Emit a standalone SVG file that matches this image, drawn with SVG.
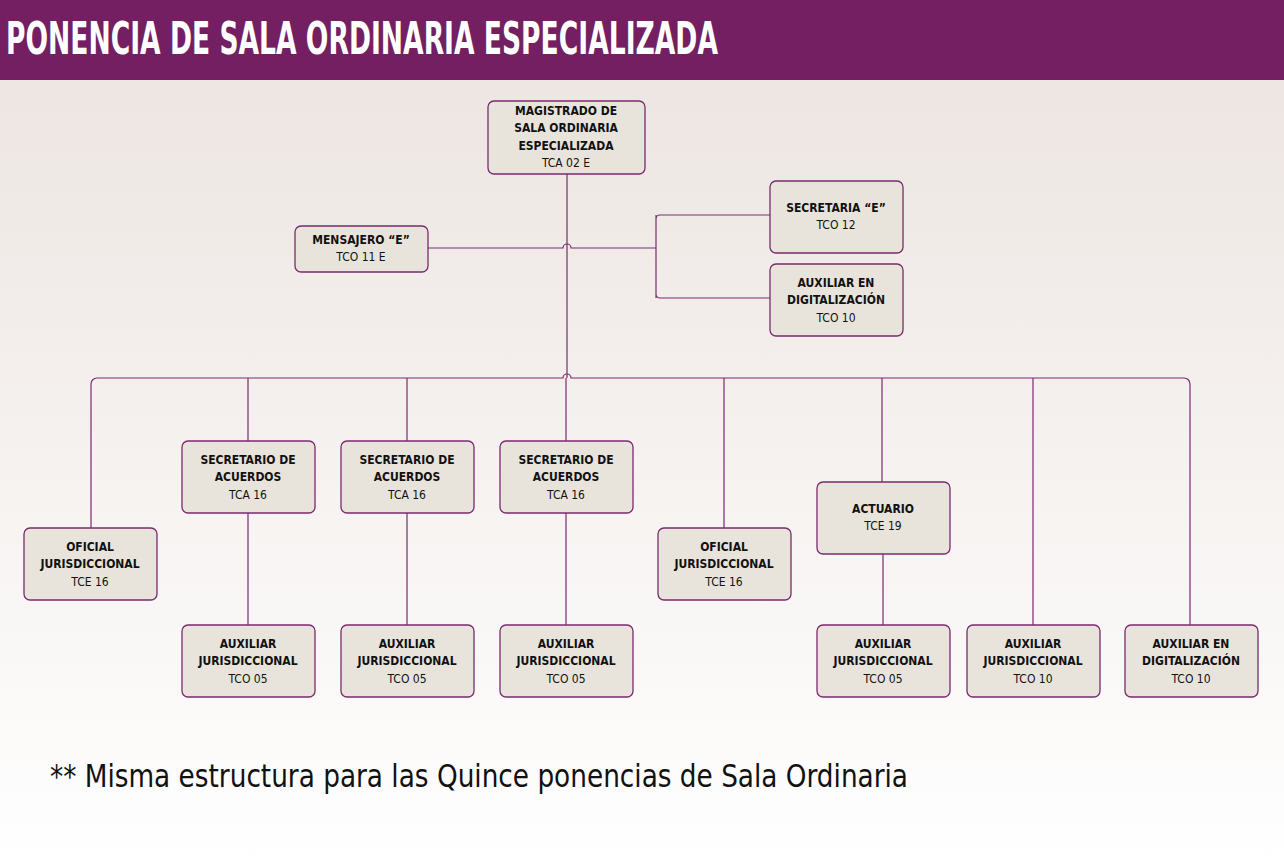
<svg xmlns="http://www.w3.org/2000/svg" width="1284" height="868" viewBox="0 0 1284 868">
<defs>
<linearGradient id="bg" x1="0" y1="0" x2="0" y2="1"><stop offset="0" stop-color="#ebe3df"/><stop offset="1" stop-color="#ffffff"/></linearGradient>
</defs>
<style>
.n rect{fill:#e8e4dc;stroke:#7a2a6e;stroke-width:1.3}
.n text{font-family:"DejaVu Sans Condensed","Liberation Sans",sans-serif;font-size:12px;text-anchor:middle;fill:#111}
.b{font-weight:bold}
#c path{fill:none;stroke:#7a2a6e;stroke-width:1.2}
</style>
<rect width="1284" height="868" fill="url(#bg)"/>
<rect width="1284" height="80" fill="#731f62"/>
<text x="6" y="54" font-family="DejaVu Sans Condensed,Liberation Sans,sans-serif" font-weight="bold" font-size="44" fill="#fff" textLength="712" lengthAdjust="spacingAndGlyphs">PONENCIA DE SALA ORDINARIA ESPECIALIZADA</text>
<g id="c">
<path d="M567 174V378"/>
<path d="M428 248H563a4 4 0 0 1 8 0H656M656 215V298M656 219a4 4 0 0 1 4 -4H770M656 294a4 4 0 0 0 4 4H770"/>
<path d="M91 528V384a6 6 0 0 1 6 -6H563a4 4 0 0 1 8 0H1184a6 6 0 0 1 6 6V625"/>
<path d="M248 378V441M407 378V441M566 378V441M724 378V528M882 378V482M1033 378V625"/>
<path d="M248 513V625M407 513V625M566 513V625M883 554V625"/>
</g>
<g id="magistrado" class="n"><rect x="488" y="101" width="157" height="73" rx="6"/><text x="566" y="115" class="b">MAGISTRADO DE</text><text x="566" y="132" class="b">SALA ORDINARIA</text><text x="566" y="150" class="b">ESPECIALIZADA</text><text x="566" y="167">TCA 02 E</text></g>
<g id="mensajero" class="n"><rect x="295" y="226" width="133" height="46" rx="6"/><text x="361" y="244" class="b">MENSAJERO “E”</text><text x="361" y="261">TCO 11 E</text></g>
<g id="secretaria" class="n"><rect x="770" y="181" width="133" height="72" rx="6"/><text x="836" y="212" class="b">SECRETARIA “E”</text><text x="836" y="229">TCO 12</text></g>
<g id="auxdig1" class="n"><rect x="770" y="264" width="133" height="72" rx="6"/><text x="836" y="287" class="b">AUXILIAR EN</text><text x="836" y="304" class="b">DIGITALIZACIÓN</text><text x="836" y="322">TCO 10</text></g>
<g id="oficial1" class="n"><rect x="24" y="528" width="133" height="72" rx="6"/><text x="90" y="551" class="b">OFICIAL</text><text x="90" y="568" class="b">JURISDICCIONAL</text><text x="90" y="586">TCE 16</text></g>
<g id="sec1" class="n"><rect x="182" y="441" width="133" height="72" rx="6"/><text x="248" y="464" class="b">SECRETARIO DE</text><text x="248" y="481" class="b">ACUERDOS</text><text x="248" y="499">TCA 16</text></g>
<g id="sec2" class="n"><rect x="341" y="441" width="133" height="72" rx="6"/><text x="407" y="464" class="b">SECRETARIO DE</text><text x="407" y="481" class="b">ACUERDOS</text><text x="407" y="499">TCA 16</text></g>
<g id="sec3" class="n"><rect x="500" y="441" width="133" height="72" rx="6"/><text x="566" y="464" class="b">SECRETARIO DE</text><text x="566" y="481" class="b">ACUERDOS</text><text x="566" y="499">TCA 16</text></g>
<g id="oficial2" class="n"><rect x="658" y="528" width="133" height="72" rx="6"/><text x="724" y="551" class="b">OFICIAL</text><text x="724" y="568" class="b">JURISDICCIONAL</text><text x="724" y="586">TCE 16</text></g>
<g id="actuario" class="n"><rect x="817" y="482" width="133" height="72" rx="6"/><text x="883" y="513" class="b">ACTUARIO</text><text x="883" y="530">TCE 19</text></g>
<g id="aux1" class="n"><rect x="182" y="625" width="133" height="72" rx="6"/><text x="248" y="648" class="b">AUXILIAR</text><text x="248" y="665" class="b">JURISDICCIONAL</text><text x="248" y="683">TCO 05</text></g>
<g id="aux2" class="n"><rect x="341" y="625" width="133" height="72" rx="6"/><text x="407" y="648" class="b">AUXILIAR</text><text x="407" y="665" class="b">JURISDICCIONAL</text><text x="407" y="683">TCO 05</text></g>
<g id="aux3" class="n"><rect x="500" y="625" width="133" height="72" rx="6"/><text x="566" y="648" class="b">AUXILIAR</text><text x="566" y="665" class="b">JURISDICCIONAL</text><text x="566" y="683">TCO 05</text></g>
<g id="aux4" class="n"><rect x="817" y="625" width="133" height="72" rx="6"/><text x="883" y="648" class="b">AUXILIAR</text><text x="883" y="665" class="b">JURISDICCIONAL</text><text x="883" y="683">TCO 05</text></g>
<g id="aux5" class="n"><rect x="967" y="625" width="133" height="72" rx="6"/><text x="1033" y="648" class="b">AUXILIAR</text><text x="1033" y="665" class="b">JURISDICCIONAL</text><text x="1033" y="683">TCO 10</text></g>
<g id="auxdig2" class="n"><rect x="1125" y="625" width="133" height="72" rx="6"/><text x="1191" y="648" class="b">AUXILIAR EN</text><text x="1191" y="665" class="b">DIGITALIZACIÓN</text><text x="1191" y="683">TCO 10</text></g>
<text x="50" y="787" font-family="DejaVu Sans Condensed,Liberation Sans,sans-serif" font-size="32" fill="#111" textLength="858" lengthAdjust="spacingAndGlyphs">** Misma estructura para las Quince ponencias de Sala Ordinaria</text>
</svg>
